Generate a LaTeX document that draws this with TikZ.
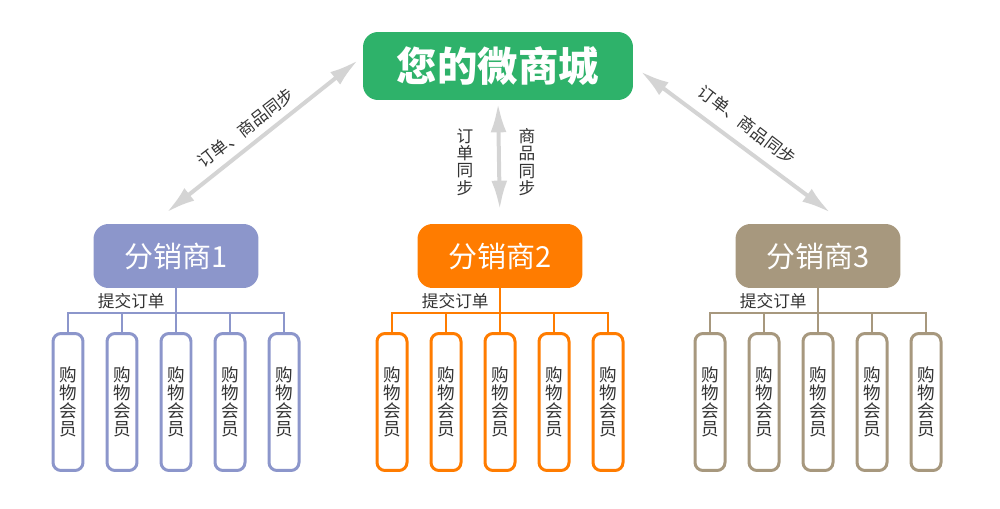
\documentclass[tikz,border=0pt]{standalone}
\usepackage{fontspec}
\newfontfamily\cjk{Noto Sans CJK SC}
\usepackage{xcolor}
\usetikzlibrary{arrows.meta}

\definecolor{shopgreen}{RGB}{46,178,106}
\definecolor{distblue}{RGB}{140,150,203}
\definecolor{distorange}{RGB}{255,124,0}
\definecolor{distbrown}{RGB}{167,152,126}
\definecolor{syncgray}{RGB}{212,212,212}
\definecolor{textgray}{RGB}{51,51,51}

\begin{document}
\begin{tikzpicture}[x=0.02cm, y=-0.02cm,
    shop/.style={fill=shopgreen, rounded corners=0.3cm, minimum width=5.4cm, minimum height=1.36cm,
        text=white, font=\cjk\bfseries\fontsize{23}{26}\selectfont},
    dist/.style={rounded corners=0.3cm, minimum width=3.3cm, minimum height=1.28cm,
        text=white, font=\cjk\fontsize{16.5}{19}\selectfont},
    member/.style={draw, line width=0.06cm, rounded corners=0.16cm, fill=white, minimum width=0.6cm,
        minimum height=2.74cm, inner sep=0pt, align=center, text=textgray,
        font=\cjk\fontsize{10}{10.3}\selectfont},
    synclabel/.style={inner sep=0pt, align=center, text=textgray, font=\cjk\fontsize{9.5}{9.8}\selectfont},
    syncarrow/.style={draw=syncgray, line width=0.08cm,
        {Latex[length=0.58cm, width=0.32cm]}-{Latex[length=0.58cm, width=0.32cm]}},
    treeline/.style={line width=0.04cm}]
    \useasboundingbox (0,0) rectangle (1000,509);

    % Micro shop
    \node[shop] (shop) at (498,66) {您的微商城};

    % Distributors
    \node[dist, fill=distblue] (d1) at (176,256) {分销商1};
    \node[dist, fill=distorange] (d2) at (500,256) {分销商2};
    \node[dist, fill=distbrown] (d3) at (818,256) {分销商3};

    % Sync arrows
    \draw[syncarrow, shorten <=0.12cm, shorten >=0.36cm] (shop.176) -- (d1.126);
    \draw[syncarrow, shorten <=0.06cm, shorten >=0.28cm] (shop.south) -- (d2.north);
    \draw[syncarrow, shorten <=0.18cm, shorten >=0.37cm] (shop.east) -- (d3.50);
    \node[synclabel, rotate=37.5] (syncleft) at (246,128) {订单、商品同步};
    \node[synclabel, rotate=-37.5] (syncright) at (747,125) {订单、商品同步};
    \node[synclabel] (ordersync) at (465,162) {订\\单\\同\\步};
    \node[synclabel] (goodssync) at (527,162) {商\\品\\同\\步};

    % Shopping members, group 1
    \draw[treeline, distblue] (d1.south) -- ++(0,25) coordinate (b1);
    \node[synclabel, anchor=east] (o1) at (165,301) {提交订单};
    \foreach \x [count=\i] in {68,122,176,230,284} {
        \node[member, draw=distblue] (m1\i) at (\x,402) {购\\物\\会\\员};
        \draw[treeline, distblue] (m1\i.north) |- (b1);
    }

    % Shopping members, group 2
    \draw[treeline, distorange] (d2.south) -- ++(0,25) coordinate (b2);
    \node[synclabel, anchor=east] (o2) at (489,301) {提交订单};
    \foreach \x [count=\i] in {392,446,500,554,608} {
        \node[member, draw=distorange] (m2\i) at (\x,402) {购\\物\\会\\员};
        \draw[treeline, distorange] (m2\i.north) |- (b2);
    }

    % Shopping members, group 3
    \draw[treeline, distbrown] (d3.south) -- ++(0,25) coordinate (b3);
    \node[synclabel, anchor=east] (o3) at (807,301) {提交订单};
    \foreach \x [count=\i] in {710,764,818,872,926} {
        \node[member, draw=distbrown] (m3\i) at (\x,402) {购\\物\\会\\员};
        \draw[treeline, distbrown] (m3\i.north) |- (b3);
    }
\end{tikzpicture}
\end{document}
